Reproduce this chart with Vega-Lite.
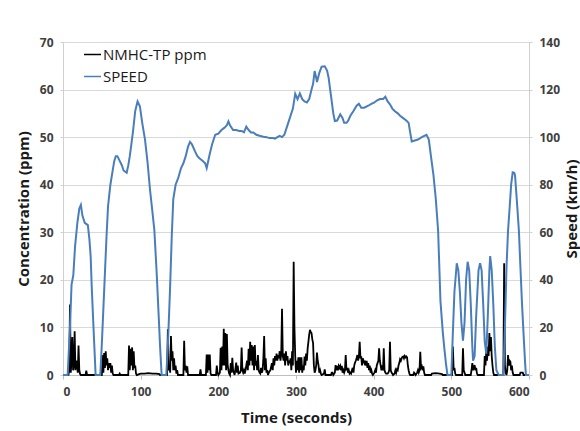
{
  "$schema": "https://vega.github.io/schema/vega-lite/v6.json",
  "width": 466,
  "height": 333,
  "autosize": {"type": "none"},
  "padding": {"left": 63, "top": 42, "right": 51, "bottom": 56},
  "background": "white",
  "config": {
    "font": "Open Sans",
    "view": {"stroke": null},
    "axis": {"labelFont": "Open Sans", "titleFont": "Open Sans", "labelFontWeight": "bold", "titleFontWeight": "bold", "labelFontSize": 12, "titleFontSize": 15, "labelColor": "#404040", "titleColor": "#1a1a1a", "domainColor": "#d0d0d0", "tickColor": "#d0d0d0"}
  },
  "datasets": {
    "conc": [
      {"t":0,"c":0},{"t":7,"c":0},{"t":8,"c":1},{"t":9,"c":14.8},{"t":10,"c":0.5},{"t":11,"c":3},{"t":12,"c":8},{"t":13,"c":1},{"t":14,"c":2},{"t":15,"c":9.2},{"t":16,"c":1},{"t":17,"c":3},{"t":18,"c":2.5},{"t":19,"c":0.5},{"t":20,"c":6.2},{"t":21,"c":1},{"t":22,"c":0.2},{"t":23,"c":0},
      {"t":29,"c":0},{"t":30,"c":0.9},{"t":31,"c":0},
      {"t":50,"c":0},{"t":51,"c":4.2},{"t":52,"c":0.5},{"t":53,"c":4.6},{"t":54,"c":1.5},{"t":55,"c":5},{"t":56,"c":2},{"t":57,"c":3.5},{"t":58,"c":1},{"t":59,"c":2.5},{"t":60,"c":1.5},{"t":61,"c":2.5},{"t":62,"c":0.5},{"t":63,"c":2},{"t":64,"c":0.3},{"t":65,"c":0},
      {"t":72,"c":0},{"t":73,"c":0.3},{"t":74,"c":0},
      {"t":84,"c":0},{"t":85,"c":6.2},{"t":86,"c":1},{"t":87,"c":5.5},{"t":88,"c":2},{"t":89,"c":5.8},{"t":90,"c":1},{"t":91,"c":5},{"t":92,"c":1.5},{"t":93,"c":2},{"t":94,"c":0.3},{"t":95,"c":0},
      {"t":98,"c":0.2},{"t":100,"c":0.3},{"t":105,"c":0.3},{"t":110,"c":0.4},{"t":115,"c":0.3},{"t":120,"c":0.3},{"t":124,"c":0.2},{"t":125,"c":0},
      {"t":134,"c":0},{"t":135,"c":9.6},{"t":136,"c":1},{"t":137,"c":2},{"t":138,"c":0.5},{"t":139,"c":8.2},{"t":140,"c":3},{"t":141,"c":5},{"t":142,"c":1},{"t":143,"c":3.5},{"t":144,"c":1},{"t":145,"c":2},{"t":146,"c":0.3},{"t":147,"c":1},{"t":148,"c":0},
      {"t":155,"c":0},{"t":156,"c":7.2},{"t":157,"c":1},{"t":158,"c":2},{"t":159,"c":0.5},{"t":160,"c":1.8},{"t":161,"c":0},
      {"t":176,"c":0},{"t":177,"c":1.2},{"t":178,"c":0},
      {"t":184,"c":0},{"t":185,"c":4.3},{"t":186,"c":0.5},{"t":187,"c":4.3},{"t":188,"c":1},{"t":189,"c":4.3},{"t":190,"c":0.3},{"t":191,"c":0},
      {"t":197,"c":0},{"t":198,"c":2},{"t":199,"c":0.5},{"t":200,"c":0},{"t":202,"c":0.5},{"t":203,"c":5.7},{"t":204,"c":1},{"t":205,"c":6},{"t":206,"c":2},{"t":207,"c":9.7},{"t":208,"c":2},{"t":209,"c":8.8},{"t":210,"c":1},{"t":211,"c":8.6},{"t":212,"c":2},{"t":213,"c":1},{"t":214,"c":0.3},{"t":215,"c":0},{"t":216,"c":2.5},{"t":217,"c":0.5},{"t":218,"c":3.6},{"t":219,"c":1},{"t":220,"c":0.5},{"t":221,"c":0},{"t":223,"c":2.6},{"t":224,"c":0.5},{"t":225,"c":2},{"t":226,"c":0.3},{"t":228,"c":0.5},{"t":229,"c":1},{"t":230,"c":5.8},{"t":231,"c":1},{"t":232,"c":0.5},{"t":233,"c":1},{"t":234,"c":0.3},{"t":235,"c":1},{"t":237,"c":3},{"t":238,"c":1},{"t":239,"c":5.5},{"t":240,"c":2},{"t":241,"c":7},{"t":242,"c":3},{"t":243,"c":6.3},{"t":244,"c":2},{"t":245,"c":6},{"t":246,"c":1},{"t":247,"c":6.3},{"t":248,"c":2},{"t":249,"c":3},{"t":250,"c":1},{"t":251,"c":4.2},{"t":252,"c":1},{"t":253,"c":0.5},{"t":254,"c":0.3},{"t":255,"c":1.5},{"t":256,"c":0.5},{"t":257,"c":1},{"t":258,"c":3.5},{"t":259,"c":8.2},{"t":260,"c":1},{"t":261,"c":3.5},{"t":262,"c":0.5},{"t":263,"c":1},{"t":264,"c":0},
      {"t":265,"c":0.5},{"t":267,"c":1},{"t":269,"c":2.5},{"t":270,"c":1},{"t":271,"c":3.5},{"t":272,"c":2},{"t":273,"c":4},{"t":274,"c":3},{"t":275,"c":4.5},{"t":276,"c":3},{"t":277,"c":4.2},{"t":278,"c":3.5},{"t":279,"c":5},{"t":280,"c":3},{"t":281,"c":4.5},{"t":282,"c":13.9},{"t":283,"c":4},{"t":284,"c":3},{"t":285,"c":4.5},{"t":286,"c":2},{"t":287,"c":5},{"t":288,"c":3},{"t":289,"c":4},{"t":290,"c":2},{"t":291,"c":3},{"t":292,"c":2.5},{"t":293,"c":3.5},{"t":294,"c":1},{"t":295,"c":5},{"t":296,"c":2},{"t":297,"c":23.8},{"t":298,"c":10},{"t":299,"c":4},{"t":300,"c":0.5},{"t":301,"c":3},{"t":302,"c":1},{"t":303,"c":3.7},{"t":304,"c":0.5},{"t":305,"c":3.7},{"t":306,"c":1},{"t":307,"c":3.7},{"t":308,"c":0.5},{"t":309,"c":2},{"t":310,"c":1},{"t":311,"c":3.9},{"t":312,"c":2},{"t":313,"c":4.5},{"t":314,"c":3},{"t":315,"c":5.6},{"t":316,"c":7},{"t":317,"c":8.5},{"t":318,"c":9.5},{"t":319,"c":9},{"t":320,"c":8.8},{"t":321,"c":7.5},{"t":322,"c":6.7},{"t":323,"c":2},{"t":324,"c":0.5},{"t":325,"c":1},{"t":326,"c":2},{"t":327,"c":4.7},{"t":328,"c":3},{"t":329,"c":2},{"t":330,"c":0.5},{"t":331,"c":1},{"t":332,"c":0.3},{"t":333,"c":0},
      {"t":336,"c":0.3},{"t":337,"c":1.2},{"t":338,"c":0},
      {"t":345,"c":0},{"t":346,"c":0.5},{"t":347,"c":0.5},{"t":348,"c":0},{"t":350,"c":0.5},{"t":351,"c":2.1},{"t":352,"c":1},{"t":353,"c":1.9},{"t":354,"c":1},{"t":355,"c":1.9},{"t":356,"c":1.5},{"t":357,"c":1.9},{"t":358,"c":1},{"t":359,"c":1.9},{"t":360,"c":0.5},{"t":361,"c":1},{"t":362,"c":0.5},{"t":363,"c":1},{"t":364,"c":4.2},{"t":365,"c":1},{"t":366,"c":1.5},{"t":367,"c":0.5},{"t":368,"c":1},{"t":369,"c":0.3},{"t":370,"c":0.5},{"t":371,"c":0.3},{"t":372,"c":1},{"t":373,"c":1.5},{"t":374,"c":0.5},{"t":375,"c":2},{"t":376,"c":2.6},{"t":377,"c":3},{"t":378,"c":3.5},{"t":379,"c":4.2},{"t":380,"c":3},{"t":381,"c":4},{"t":382,"c":7},{"t":383,"c":3.5},{"t":384,"c":3.9},{"t":385,"c":2},{"t":386,"c":3.5},{"t":387,"c":3},{"t":388,"c":2.5},{"t":389,"c":3},{"t":390,"c":2},{"t":391,"c":3},{"t":392,"c":1.5},{"t":393,"c":2.5},{"t":394,"c":1},{"t":395,"c":2},{"t":396,"c":0.5},{"t":397,"c":1},{"t":398,"c":0.3},{"t":399,"c":0},
      {"t":401,"c":0.5},{"t":402,"c":1},{"t":403,"c":0.5},{"t":404,"c":2},{"t":405,"c":2.5},{"t":406,"c":3},{"t":407,"c":5.6},{"t":408,"c":3},{"t":409,"c":2},{"t":410,"c":1},{"t":411,"c":2},{"t":412,"c":1},{"t":413,"c":5.6},{"t":414,"c":1},{"t":415,"c":0.5},{"t":416,"c":0.3},{"t":418,"c":0.3},{"t":419,"c":0.5},{"t":420,"c":1},{"t":421,"c":7},{"t":422,"c":1},{"t":423,"c":0.5},{"t":424,"c":0.3},{"t":425,"c":0},
      {"t":427,"c":0.3},{"t":428,"c":1},{"t":429,"c":0.5},{"t":430,"c":1.2},{"t":431,"c":1},{"t":432,"c":2},{"t":433,"c":2.5},{"t":434,"c":3.3},{"t":435,"c":3},{"t":436,"c":3.5},{"t":437,"c":3.8},{"t":438,"c":3.9},{"t":439,"c":3.5},{"t":440,"c":4},{"t":441,"c":3.7},{"t":442,"c":3.9},{"t":443,"c":3.7},{"t":444,"c":2},{"t":445,"c":1},{"t":446,"c":0.3},{"t":447,"c":0},
      {"t":451,"c":0},{"t":452,"c":0.5},{"t":453,"c":0.3},{"t":454,"c":0},{"t":456,"c":0.5},{"t":457,"c":1},{"t":458,"c":0.5},{"t":459,"c":1},{"t":460,"c":4.9},{"t":461,"c":1.5},{"t":462,"c":1.8},{"t":463,"c":1},{"t":464,"c":1.8},{"t":465,"c":0.5},{"t":466,"c":0},
      {"t":474,"c":0},{"t":475,"c":0.3},{"t":480,"c":0.4},{"t":485,"c":0.3},{"t":488,"c":0.2},{"t":489,"c":0},
      {"t":501,"c":0},{"t":502,"c":6},{"t":503,"c":1},{"t":504,"c":1.5},{"t":505,"c":0.3},{"t":506,"c":0},
      {"t":514,"c":0},{"t":515,"c":5.6},{"t":516,"c":1},{"t":517,"c":0.5},{"t":518,"c":0},
      {"t":525,"c":0},{"t":526,"c":1},{"t":527,"c":2.5},{"t":528,"c":1},{"t":529,"c":1.5},{"t":530,"c":2.1},{"t":531,"c":1},{"t":532,"c":1.5},{"t":533,"c":0.3},{"t":534,"c":0},
      {"t":542,"c":0},{"t":543,"c":4},{"t":544,"c":2},{"t":545,"c":5},{"t":546,"c":3},{"t":547,"c":6},{"t":548,"c":4},{"t":549,"c":8.8},{"t":550,"c":5},{"t":551,"c":8},{"t":552,"c":4},{"t":553,"c":2},{"t":554,"c":0.5},{"t":555,"c":0},
      {"t":567,"c":0},{"t":568,"c":23.5},{"t":569,"c":2},{"t":570,"c":0.5},{"t":571,"c":0},{"t":572,"c":1},{"t":573,"c":4.2},{"t":574,"c":2},{"t":575,"c":3},{"t":576,"c":2.8},{"t":577,"c":1},{"t":578,"c":2},{"t":579,"c":0.5},{"t":580,"c":0},
      {"t":588,"c":0},{"t":589,"c":0.5},{"t":592,"c":0.5},{"t":593,"c":0},{"t":600,"c":0}
    ],
    "speed": [
      {"t":0,"s":0},{"t":6,"s":0},{"t":9,"s":20},{"t":11,"s":38},{"t":13.3,"s":42},{"t":15.5,"s":54},{"t":18.5,"s":64},{"t":21,"s":70},{"t":23,"s":71.5},{"t":25,"s":67},{"t":28,"s":64},{"t":32,"s":63},{"t":34,"s":57},{"t":35.6,"s":50},{"t":37,"s":37},{"t":39,"s":22},{"t":42,"s":0},
      {"t":48,"s":0},{"t":50,"s":13},{"t":52,"s":28},{"t":54,"s":43},{"t":56,"s":58},{"t":58,"s":71},{"t":61,"s":80},{"t":64,"s":86},{"t":66,"s":90},{"t":68,"s":92},{"t":70,"s":92},{"t":73,"s":90},{"t":76,"s":88},{"t":78,"s":86},{"t":82,"s":85},{"t":84,"s":88},{"t":86,"s":92},{"t":88,"s":97},{"t":90,"s":102},{"t":93,"s":111},{"t":96,"s":115},{"t":99,"s":113},{"t":102,"s":106},{"t":105.6,"s":99},{"t":109,"s":89},{"t":112,"s":78},{"t":115,"s":69},{"t":117.6,"s":61},{"t":120.6,"s":43},{"t":123.6,"s":22},{"t":125,"s":12},{"t":127,"s":0},
      {"t":133,"s":0},{"t":135,"s":12},{"t":137.8,"s":36},{"t":140,"s":58},{"t":142,"s":74},{"t":145,"s":80},{"t":148.5,"s":83},{"t":152,"s":87},{"t":155,"s":89},{"t":158,"s":92},{"t":161,"s":96},{"t":163.5,"s":98},{"t":166,"s":97},{"t":170,"s":94},{"t":173,"s":92},{"t":176,"s":91},{"t":180,"s":90},{"t":183,"s":89},{"t":185,"s":87},{"t":187,"s":90},{"t":189,"s":93},{"t":192,"s":97},{"t":196,"s":101},{"t":200,"s":101.5},{"t":204,"s":103},{"t":208,"s":104},{"t":211,"s":105},{"t":213,"s":106.6},{"t":215,"s":105},{"t":219,"s":103},{"t":223,"s":103},{"t":227,"s":102.6},{"t":230,"s":102.6},{"t":233,"s":102},{"t":236,"s":104.4},{"t":239,"s":103},{"t":242,"s":102},{"t":245,"s":102},{"t":249,"s":101},{"t":253,"s":100.6},{"t":258,"s":100.2},{"t":262,"s":100},{"t":266,"s":99.6},{"t":270,"s":99.6},{"t":273,"s":99.4},{"t":276,"s":100},{"t":279,"s":100.5},{"t":282,"s":100},{"t":285,"s":101},{"t":288,"s":104},{"t":292,"s":108},{"t":296,"s":112},{"t":299,"s":118.2},{"t":302,"s":116},{"t":305,"s":118.4},{"t":308,"s":116},{"t":311,"s":115},{"t":314,"s":114.6},{"t":317,"s":116},{"t":320,"s":120},{"t":322,"s":122.4},{"t":324,"s":127.8},{"t":326,"s":125},{"t":327,"s":123.2},{"t":330,"s":127},{"t":333,"s":129.6},{"t":337,"s":129.8},{"t":340,"s":128},{"t":342,"s":125},{"t":344,"s":120},{"t":346,"s":115},{"t":348,"s":110},{"t":350,"s":106.8},{"t":353,"s":107},{"t":357,"s":109.6},{"t":360,"s":108},{"t":362,"s":106},{"t":365,"s":106},{"t":367,"s":106.8},{"t":370,"s":109},{"t":374,"s":111},{"t":378,"s":113.2},{"t":381,"s":114},{"t":384,"s":112.4},{"t":388,"s":112.4},{"t":393,"s":113.2},{"t":397,"s":114},{"t":401,"s":114.6},{"t":404,"s":115.4},{"t":408,"s":116},{"t":412,"s":116},{"t":415,"s":117},{"t":418,"s":115},{"t":421,"s":113.8},{"t":424,"s":112},{"t":427,"s":111},{"t":431,"s":110},{"t":434,"s":109},{"t":438,"s":108},{"t":442,"s":107},{"t":445,"s":106},{"t":447,"s":102},{"t":449,"s":98.2},{"t":453,"s":98.6},{"t":457,"s":99},{"t":462,"s":100},{"t":468,"s":101},{"t":471,"s":99},{"t":474,"s":91.4},{"t":477,"s":84},{"t":480,"s":74},{"t":483,"s":60.6},{"t":486,"s":31},{"t":489,"s":18},{"t":491,"s":11.2},{"t":493,"s":5},{"t":495,"s":0},
      {"t":500,"s":0},{"t":502,"s":18},{"t":504,"s":35},{"t":507,"s":47},{"t":509,"s":44},{"t":511,"s":35},{"t":513,"s":22},{"t":515,"s":14.4},{"t":517,"s":22},{"t":519,"s":40},{"t":521,"s":47.6},{"t":523,"s":44},{"t":525,"s":30},{"t":527,"s":12},{"t":528,"s":6},{"t":530,"s":8},{"t":532,"s":25},{"t":535,"s":44},{"t":537,"s":47},{"t":539,"s":44},{"t":541,"s":30},{"t":543,"s":14},{"t":545,"s":9},{"t":547,"s":25},{"t":549,"s":44},{"t":550,"s":50},{"t":552,"s":44},{"t":554,"s":30},{"t":556,"s":12},{"t":558,"s":2},{"t":561,"s":0},
      {"t":567,"s":0},{"t":569,"s":20},{"t":571,"s":45},{"t":573,"s":60.6},{"t":575,"s":70},{"t":577,"s":80},{"t":579,"s":85.2},{"t":581,"s":85},{"t":582,"s":84},{"t":584,"s":75},{"t":587,"s":60.6},{"t":589,"s":45},{"t":591,"s":30},{"t":593,"s":17.2},{"t":595,"s":5},{"t":596,"s":0},{"t":600,"s":0}
    ]
  },
  "encoding": {
    "x": {"field": "t", "type": "quantitative", "scale": {"domain": [0, 600], "nice": false},
      "axis": {"values": [0,100,200,300,400,500,600], "title": "Time (seconds)", "grid": false, "tickSize": 4, "labelPadding": 7, "titlePadding": 13, "domainColor": "#bfbfbf", "tickColor": "#bfbfbf"}},
    "color": {"type": "nominal", "scale": {"domain": ["NMHC-TP ppm", "SPEED"], "range": ["#000000", "#4a7ebb"]},
      "legend": {"orient": "none", "legendX": 20, "legendY": 3, "title": null, "symbolType": "stroke", "symbolSize": 289, "symbolStrokeWidth": 1.5, "labelFont": "Open Sans", "labelFontSize": 15, "labelColor": "#1a1a1a", "labelOffset": 1, "rowPadding": 4, "padding": 0}}
  },
  "layer": [
    {
      "data": {"name": "conc"},
      "mark": {"type": "line", "strokeWidth": 1.8},
      "encoding": {
        "y": {"field": "c", "type": "quantitative", "scale": {"domain": [0, 70], "nice": false},
          "axis": {"orient": "left", "values": [0,10,20,30,40,50,60,70], "title": "Concentration (ppm)", "grid": true, "gridColor": "#d9d9d9", "tickSize": 3, "labelPadding": 7, "titlePadding": 8}},
        "color": {"datum": "NMHC-TP ppm"}
      }
    },
    {
      "data": {"name": "speed"},
      "mark": {"type": "line", "strokeWidth": 2},
      "encoding": {
        "y": {"field": "s", "type": "quantitative", "scale": {"domain": [0, 140], "nice": false},
          "axis": {"orient": "right", "values": [0,20,40,60,80,100,120,140], "title": "Speed (km/h)", "titleAngle": -90, "titleBaseline": "top", "grid": false, "tickSize": 3, "labelPadding": 7, "titlePadding": 5}},
        "color": {"datum": "SPEED"}
      }
    }
  ],
  "resolve": {"scale": {"y": "independent"}}
}
